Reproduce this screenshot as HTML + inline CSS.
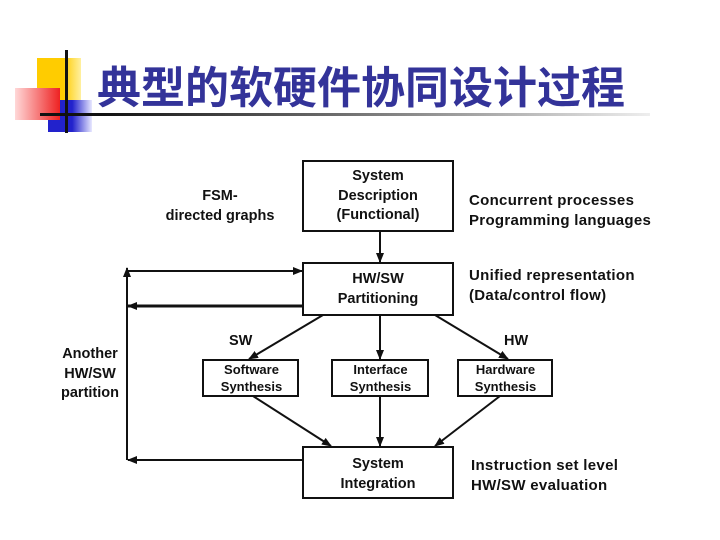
<!DOCTYPE html>
<html><head><meta charset="utf-8"><style>
body{margin:0;width:720px;height:540px;background:#fff;overflow:hidden;position:relative;font-family:"Liberation Sans",sans-serif;}
.t{position:absolute;font-size:14.5px;font-weight:bold;color:#111;line-height:19.5px;text-align:center;white-space:nowrap;}
.r{font-size:15px;letter-spacing:0.3px;}
.s{font-size:13px;line-height:17px;}
</style></head><body>
<div style="position:absolute;left:37px;top:58px;width:44px;height:42px;background:linear-gradient(90deg,#ffcc00 60%,#fff0a0);"></div>
<div style="position:absolute;left:48px;top:100px;width:44px;height:32px;background:linear-gradient(90deg,#2222cc 55%,#e8e8ff);"></div>
<div style="position:absolute;left:15px;top:88px;width:45px;height:32px;background:linear-gradient(90deg,#ffd8d8,#ee2222);"></div>
<div style="position:absolute;left:65px;top:50px;width:3px;height:83px;background:#111;"></div>
<div style="position:absolute;left:40px;top:113px;width:610px;height:3px;background:linear-gradient(90deg,#111 10%,#888 60%,#eee);"></div>
<div style="position:absolute;left:97px;top:52px;font-family:'Liberation Sans','Noto Sans CJK SC',sans-serif;font-size:44px;font-weight:bold;color:#333399;white-space:nowrap;">典型的软硬件协同设计过程</div>

<svg width="720" height="540" style="position:absolute;left:0;top:0">
<defs><marker id="a" markerWidth="10" markerHeight="8" refX="9" refY="4" orient="auto" markerUnits="userSpaceOnUse"><path d="M0,0L10,4L0,8z" fill="#111"/></marker></defs>
<g fill="none" stroke="#111" stroke-width="2">
<rect x="303" y="161" width="150" height="70"/>
<rect x="303" y="263" width="150" height="52"/>
<rect x="203" y="360" width="95" height="36"/>
<rect x="332" y="360" width="96" height="36"/>
<rect x="458" y="360" width="94" height="36"/>
<rect x="303" y="447" width="150" height="51"/>
<line x1="380" y1="231" x2="380" y2="262" marker-end="url(#a)"/>
<line x1="323" y1="315" x2="249" y2="359" marker-end="url(#a)"/>
<line x1="380" y1="315" x2="380" y2="359" marker-end="url(#a)"/>
<line x1="435" y1="315" x2="508" y2="359" marker-end="url(#a)"/>
<line x1="253" y1="396" x2="331" y2="446" marker-end="url(#a)"/>
<line x1="380" y1="396" x2="380" y2="446" marker-end="url(#a)"/>
<line x1="500" y1="396" x2="435" y2="446" marker-end="url(#a)"/>
<line x1="127" y1="460" x2="127" y2="268" marker-end="url(#a)"/>
<line x1="127" y1="271" x2="302" y2="271" marker-end="url(#a)"/>
<line x1="303" y1="306" x2="128" y2="306" stroke-width="3" marker-end="url(#a)"/>
<line x1="303" y1="460" x2="128" y2="460" marker-end="url(#a)"/>
</g></svg>

<div class="t" style="left:303px;top:167px;width:150px;">System<br>Description<br>(Functional)</div>
<div class="t" style="left:150px;top:187px;width:140px;">FSM-<br>directed graphs</div>
<div class="t r" style="left:469px;top:191px;text-align:left;">Concurrent processes<br>Programming languages</div>
<div class="t" style="left:303px;top:270px;width:150px;">HW/SW<br>Partitioning</div>
<div class="t r" style="left:469px;top:266px;text-align:left;">Unified representation<br>(Data/control flow)</div>
<div class="t" style="left:229px;top:332px;">SW</div>
<div class="t" style="left:504px;top:332px;">HW</div>
<div class="t" style="left:50px;top:345px;width:80px;">Another<br>HW/SW<br>partition</div>
<div class="t s" style="left:203px;top:361px;width:97px;">Software<br>Synthesis</div>
<div class="t s" style="left:332px;top:361px;width:97px;">Interface<br>Synthesis</div>
<div class="t s" style="left:458px;top:361px;width:95px;">Hardware<br>Synthesis</div>
<div class="t" style="left:303px;top:455px;width:150px;">System<br>Integration</div>
<div class="t r" style="left:471px;top:456px;text-align:left;">Instruction set level<br>HW/SW evaluation</div>
</body></html>
